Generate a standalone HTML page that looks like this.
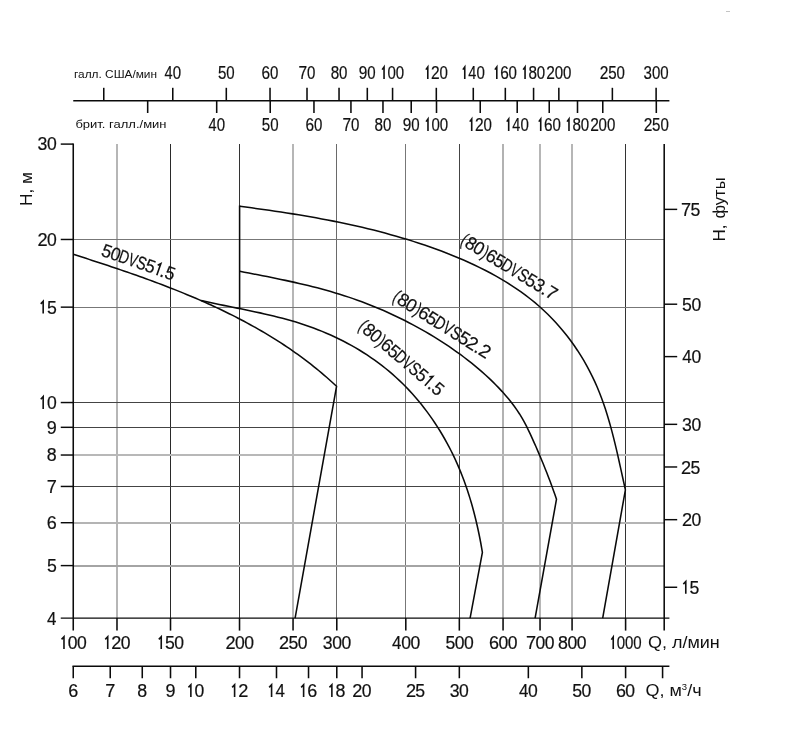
<!DOCTYPE html>
<html><head><meta charset="utf-8"><title>chart</title>
<style>
html,body{margin:0;padding:0;background:#fff;}
body{width:799px;height:734px;overflow:hidden;font-family:"Liberation Sans",sans-serif;}
svg{display:block;will-change:transform;filter:grayscale(1);}
text{font-family:"Liberation Sans",sans-serif;fill:#111;}
</style></head><body>
<svg width="799" height="734" viewBox="0 0 799 734">
<rect width="799" height="734" fill="#fff"/>
<g shape-rendering="crispEdges">
<rect x="116" y="144" width="2" height="474" fill="#b6b6b6"/>
<rect x="170" y="144" width="1" height="474" fill="#2a2a2a"/>
<rect x="239" y="144" width="1" height="474" fill="#333"/>
<rect x="292" y="144" width="2" height="474" fill="#b6b6b6"/>
<rect x="336" y="144" width="1" height="474" fill="#6a6a6a"/>
<rect x="405" y="144" width="1" height="474" fill="#777"/>
<rect x="459" y="144" width="1" height="474" fill="#444"/>
<rect x="502" y="144" width="2" height="474" fill="#b2b2b2"/>
<rect x="539" y="144" width="2" height="474" fill="#b6b6b6"/>
<rect x="571" y="144" width="2" height="474" fill="#b6b6b6"/>
<rect x="625" y="144" width="1" height="474" fill="#333"/>
<rect x="73" y="239" width="591" height="1" fill="#777"/>
<rect x="73" y="307" width="591" height="1" fill="#777"/>
<rect x="73" y="402" width="591" height="1" fill="#444"/>
<rect x="73" y="427" width="591" height="1" fill="#444"/>
<rect x="73" y="454" width="591" height="2" fill="#b8b8b8"/>
<rect x="73" y="486" width="591" height="1" fill="#444"/>
<rect x="73" y="522" width="591" height="2" fill="#b4b4b4"/>
<rect x="73" y="565" width="591" height="2" fill="#a4a4a4"/>
</g>
<line x1="73.25" y1="143.38" x2="73.25" y2="630.60" stroke="#0a0a0a" stroke-width="1.55"/>
<line x1="664.20" y1="144.10" x2="664.20" y2="630.60" stroke="#0a0a0a" stroke-width="1.55"/>
<line x1="60.75" y1="618.10" x2="669.40" y2="618.10" stroke="#0a0a0a" stroke-width="1.45"/>
<line x1="60.75" y1="144.10" x2="73.25" y2="144.10" stroke="#0a0a0a" stroke-width="1.45"/>
<line x1="60.75" y1="239.47" x2="73.25" y2="239.47" stroke="#0a0a0a" stroke-width="1.45"/>
<line x1="60.75" y1="307.15" x2="73.25" y2="307.15" stroke="#0a0a0a" stroke-width="1.45"/>
<line x1="60.75" y1="402.54" x2="73.25" y2="402.54" stroke="#0a0a0a" stroke-width="1.45"/>
<line x1="60.75" y1="427.32" x2="73.25" y2="427.32" stroke="#0a0a0a" stroke-width="1.45"/>
<line x1="60.75" y1="455.03" x2="73.25" y2="455.03" stroke="#0a0a0a" stroke-width="1.45"/>
<line x1="60.75" y1="486.45" x2="73.25" y2="486.45" stroke="#0a0a0a" stroke-width="1.45"/>
<line x1="60.75" y1="522.71" x2="73.25" y2="522.71" stroke="#0a0a0a" stroke-width="1.45"/>
<line x1="60.75" y1="565.60" x2="73.25" y2="565.60" stroke="#0a0a0a" stroke-width="1.45"/>
<line x1="664.20" y1="209.37" x2="677.20" y2="209.37" stroke="#0a0a0a" stroke-width="1.45"/>
<line x1="664.20" y1="304.21" x2="677.20" y2="304.21" stroke="#0a0a0a" stroke-width="1.45"/>
<line x1="664.20" y1="356.61" x2="677.20" y2="356.61" stroke="#0a0a0a" stroke-width="1.45"/>
<line x1="664.20" y1="424.34" x2="677.20" y2="424.34" stroke="#0a0a0a" stroke-width="1.45"/>
<line x1="664.20" y1="466.98" x2="677.20" y2="466.98" stroke="#0a0a0a" stroke-width="1.45"/>
<line x1="664.20" y1="519.68" x2="677.20" y2="519.68" stroke="#0a0a0a" stroke-width="1.45"/>
<line x1="664.20" y1="587.26" x2="677.20" y2="587.26" stroke="#0a0a0a" stroke-width="1.45"/>
<line x1="116.99" y1="618.10" x2="116.99" y2="630.60" stroke="#0a0a0a" stroke-width="1.55"/>
<line x1="170.51" y1="618.10" x2="170.51" y2="630.60" stroke="#0a0a0a" stroke-width="1.55"/>
<line x1="239.52" y1="618.10" x2="239.52" y2="630.60" stroke="#0a0a0a" stroke-width="1.55"/>
<line x1="293.05" y1="618.10" x2="293.05" y2="630.60" stroke="#0a0a0a" stroke-width="1.55"/>
<line x1="336.79" y1="618.10" x2="336.79" y2="630.60" stroke="#0a0a0a" stroke-width="1.55"/>
<line x1="405.80" y1="618.10" x2="405.80" y2="630.60" stroke="#0a0a0a" stroke-width="1.55"/>
<line x1="459.33" y1="618.10" x2="459.33" y2="630.60" stroke="#0a0a0a" stroke-width="1.55"/>
<line x1="503.06" y1="618.10" x2="503.06" y2="630.60" stroke="#0a0a0a" stroke-width="1.55"/>
<line x1="540.04" y1="618.10" x2="540.04" y2="630.60" stroke="#0a0a0a" stroke-width="1.55"/>
<line x1="572.07" y1="618.10" x2="572.07" y2="630.60" stroke="#0a0a0a" stroke-width="1.55"/>
<line x1="625.60" y1="618.10" x2="625.60" y2="630.60" stroke="#0a0a0a" stroke-width="1.55"/>
<line x1="72.47" y1="666.25" x2="669.40" y2="666.25" stroke="#0a0a0a" stroke-width="1.45"/>
<line x1="73.25" y1="666.25" x2="73.25" y2="678.25" stroke="#0a0a0a" stroke-width="1.55"/>
<line x1="110.23" y1="666.25" x2="110.23" y2="678.25" stroke="#0a0a0a" stroke-width="1.55"/>
<line x1="142.26" y1="666.25" x2="142.26" y2="678.25" stroke="#0a0a0a" stroke-width="1.55"/>
<line x1="170.51" y1="666.25" x2="170.51" y2="678.25" stroke="#0a0a0a" stroke-width="1.55"/>
<line x1="195.79" y1="666.25" x2="195.79" y2="678.25" stroke="#0a0a0a" stroke-width="1.55"/>
<line x1="239.52" y1="666.25" x2="239.52" y2="678.25" stroke="#0a0a0a" stroke-width="1.55"/>
<line x1="276.50" y1="666.25" x2="276.50" y2="678.25" stroke="#0a0a0a" stroke-width="1.55"/>
<line x1="308.53" y1="666.25" x2="308.53" y2="678.25" stroke="#0a0a0a" stroke-width="1.55"/>
<line x1="336.79" y1="666.25" x2="336.79" y2="678.25" stroke="#0a0a0a" stroke-width="1.55"/>
<line x1="362.06" y1="666.25" x2="362.06" y2="678.25" stroke="#0a0a0a" stroke-width="1.55"/>
<line x1="415.59" y1="666.25" x2="415.59" y2="678.25" stroke="#0a0a0a" stroke-width="1.55"/>
<line x1="459.33" y1="666.25" x2="459.33" y2="678.25" stroke="#0a0a0a" stroke-width="1.55"/>
<line x1="528.34" y1="666.25" x2="528.34" y2="678.25" stroke="#0a0a0a" stroke-width="1.55"/>
<line x1="581.86" y1="666.25" x2="581.86" y2="678.25" stroke="#0a0a0a" stroke-width="1.55"/>
<line x1="625.60" y1="666.25" x2="625.60" y2="678.25" stroke="#0a0a0a" stroke-width="1.55"/>
<line x1="662.58" y1="666.25" x2="662.58" y2="678.25" stroke="#0a0a0a" stroke-width="1.55"/>
<line x1="73.25" y1="100.70" x2="669.40" y2="100.70" stroke="#0a0a0a" stroke-width="1.45"/>
<line x1="103.76" y1="87.80" x2="103.76" y2="100.70" stroke="#0a0a0a" stroke-width="1.55"/>
<line x1="172.77" y1="87.80" x2="172.77" y2="100.70" stroke="#0a0a0a" stroke-width="1.55"/>
<line x1="226.30" y1="87.80" x2="226.30" y2="100.70" stroke="#0a0a0a" stroke-width="1.55"/>
<line x1="270.03" y1="87.80" x2="270.03" y2="100.70" stroke="#0a0a0a" stroke-width="1.55"/>
<line x1="307.01" y1="87.80" x2="307.01" y2="100.70" stroke="#0a0a0a" stroke-width="1.55"/>
<line x1="339.04" y1="87.80" x2="339.04" y2="100.70" stroke="#0a0a0a" stroke-width="1.55"/>
<line x1="367.30" y1="87.80" x2="367.30" y2="100.70" stroke="#0a0a0a" stroke-width="1.55"/>
<line x1="392.57" y1="87.80" x2="392.57" y2="100.70" stroke="#0a0a0a" stroke-width="1.55"/>
<line x1="436.31" y1="87.80" x2="436.31" y2="100.70" stroke="#0a0a0a" stroke-width="1.55"/>
<line x1="473.28" y1="87.80" x2="473.28" y2="100.70" stroke="#0a0a0a" stroke-width="1.55"/>
<line x1="505.32" y1="87.80" x2="505.32" y2="100.70" stroke="#0a0a0a" stroke-width="1.55"/>
<line x1="533.57" y1="87.80" x2="533.57" y2="100.70" stroke="#0a0a0a" stroke-width="1.55"/>
<line x1="558.84" y1="87.80" x2="558.84" y2="100.70" stroke="#0a0a0a" stroke-width="1.55"/>
<line x1="612.37" y1="87.80" x2="612.37" y2="100.70" stroke="#0a0a0a" stroke-width="1.55"/>
<line x1="656.11" y1="87.80" x2="656.11" y2="100.70" stroke="#0a0a0a" stroke-width="1.55"/>
<line x1="147.68" y1="100.70" x2="147.68" y2="113.00" stroke="#0a0a0a" stroke-width="1.55"/>
<line x1="216.69" y1="100.70" x2="216.69" y2="113.00" stroke="#0a0a0a" stroke-width="1.55"/>
<line x1="270.22" y1="100.70" x2="270.22" y2="113.00" stroke="#0a0a0a" stroke-width="1.55"/>
<line x1="313.96" y1="100.70" x2="313.96" y2="113.00" stroke="#0a0a0a" stroke-width="1.55"/>
<line x1="350.94" y1="100.70" x2="350.94" y2="113.00" stroke="#0a0a0a" stroke-width="1.55"/>
<line x1="382.97" y1="100.70" x2="382.97" y2="113.00" stroke="#0a0a0a" stroke-width="1.55"/>
<line x1="411.22" y1="100.70" x2="411.22" y2="113.00" stroke="#0a0a0a" stroke-width="1.55"/>
<line x1="436.50" y1="100.70" x2="436.50" y2="113.00" stroke="#0a0a0a" stroke-width="1.55"/>
<line x1="480.23" y1="100.70" x2="480.23" y2="113.00" stroke="#0a0a0a" stroke-width="1.55"/>
<line x1="517.21" y1="100.70" x2="517.21" y2="113.00" stroke="#0a0a0a" stroke-width="1.55"/>
<line x1="549.24" y1="100.70" x2="549.24" y2="113.00" stroke="#0a0a0a" stroke-width="1.55"/>
<line x1="577.50" y1="100.70" x2="577.50" y2="113.00" stroke="#0a0a0a" stroke-width="1.55"/>
<line x1="602.77" y1="100.70" x2="602.77" y2="113.00" stroke="#0a0a0a" stroke-width="1.55"/>
<line x1="656.30" y1="100.70" x2="656.30" y2="113.00" stroke="#0a0a0a" stroke-width="1.55"/>
<text transform="translate(168.62,79.00) scale(0.805,1)" text-anchor="middle" font-size="18.0" stroke="#111" stroke-width="0.2">4</text>
<text transform="translate(176.92,79.00) scale(0.835,1)" text-anchor="middle" font-size="18.0" stroke="#111" stroke-width="0.2">0</text>
<text transform="translate(222.15,79.00) scale(0.840,1)" text-anchor="middle" font-size="18.0" stroke="#111" stroke-width="0.2">5</text>
<text transform="translate(230.45,79.00) scale(0.835,1)" text-anchor="middle" font-size="18.0" stroke="#111" stroke-width="0.2">0</text>
<text transform="translate(265.88,79.00) scale(0.856,1)" text-anchor="middle" font-size="18.0" stroke="#111" stroke-width="0.2">6</text>
<text transform="translate(274.18,79.00) scale(0.835,1)" text-anchor="middle" font-size="18.0" stroke="#111" stroke-width="0.2">0</text>
<text transform="translate(302.86,79.00) scale(0.864,1)" text-anchor="middle" font-size="18.0" stroke="#111" stroke-width="0.2">7</text>
<text transform="translate(311.16,79.00) scale(0.835,1)" text-anchor="middle" font-size="18.0" stroke="#111" stroke-width="0.2">0</text>
<text transform="translate(334.89,79.00) scale(0.846,1)" text-anchor="middle" font-size="18.0" stroke="#111" stroke-width="0.2">8</text>
<text transform="translate(343.19,79.00) scale(0.835,1)" text-anchor="middle" font-size="18.0" stroke="#111" stroke-width="0.2">0</text>
<text transform="translate(363.15,79.00) scale(0.855,1)" text-anchor="middle" font-size="18.0" stroke="#111" stroke-width="0.2">9</text>
<text transform="translate(371.45,79.00) scale(0.835,1)" text-anchor="middle" font-size="18.0" stroke="#111" stroke-width="0.2">0</text>
<path d="M382.12,69.63 L384.05,67.03 V79.00" fill="none" stroke="#111" stroke-width="1.6" stroke-linejoin="miter"/>
<text transform="translate(391.67,79.00) scale(0.835,1)" text-anchor="middle" font-size="18.0" stroke="#111" stroke-width="0.2">0</text>
<text transform="translate(399.97,79.00) scale(0.835,1)" text-anchor="middle" font-size="18.0" stroke="#111" stroke-width="0.2">0</text>
<path d="M425.86,69.63 L427.79,67.03 V79.00" fill="none" stroke="#111" stroke-width="1.6" stroke-linejoin="miter"/>
<text transform="translate(435.41,79.00) scale(0.863,1)" text-anchor="middle" font-size="18.0" stroke="#111" stroke-width="0.2">2</text>
<text transform="translate(443.71,79.00) scale(0.835,1)" text-anchor="middle" font-size="18.0" stroke="#111" stroke-width="0.2">0</text>
<path d="M462.83,69.63 L464.76,67.03 V79.00" fill="none" stroke="#111" stroke-width="1.6" stroke-linejoin="miter"/>
<text transform="translate(472.38,79.00) scale(0.805,1)" text-anchor="middle" font-size="18.0" stroke="#111" stroke-width="0.2">4</text>
<text transform="translate(480.68,79.00) scale(0.835,1)" text-anchor="middle" font-size="18.0" stroke="#111" stroke-width="0.2">0</text>
<path d="M494.87,69.63 L496.80,67.03 V79.00" fill="none" stroke="#111" stroke-width="1.6" stroke-linejoin="miter"/>
<text transform="translate(504.42,79.00) scale(0.856,1)" text-anchor="middle" font-size="18.0" stroke="#111" stroke-width="0.2">6</text>
<text transform="translate(512.72,79.00) scale(0.835,1)" text-anchor="middle" font-size="18.0" stroke="#111" stroke-width="0.2">0</text>
<path d="M523.12,69.63 L525.05,67.03 V79.00" fill="none" stroke="#111" stroke-width="1.6" stroke-linejoin="miter"/>
<text transform="translate(532.67,79.00) scale(0.846,1)" text-anchor="middle" font-size="18.0" stroke="#111" stroke-width="0.2">8</text>
<text transform="translate(540.97,79.00) scale(0.835,1)" text-anchor="middle" font-size="18.0" stroke="#111" stroke-width="0.2">0</text>
<text transform="translate(550.54,79.00) scale(0.863,1)" text-anchor="middle" font-size="18.0" stroke="#111" stroke-width="0.2">2</text>
<text transform="translate(558.84,79.00) scale(0.835,1)" text-anchor="middle" font-size="18.0" stroke="#111" stroke-width="0.2">0</text>
<text transform="translate(567.14,79.00) scale(0.835,1)" text-anchor="middle" font-size="18.0" stroke="#111" stroke-width="0.2">0</text>
<text transform="translate(604.07,79.00) scale(0.863,1)" text-anchor="middle" font-size="18.0" stroke="#111" stroke-width="0.2">2</text>
<text transform="translate(612.37,79.00) scale(0.840,1)" text-anchor="middle" font-size="18.0" stroke="#111" stroke-width="0.2">5</text>
<text transform="translate(620.67,79.00) scale(0.835,1)" text-anchor="middle" font-size="18.0" stroke="#111" stroke-width="0.2">0</text>
<text transform="translate(647.81,79.00) scale(0.840,1)" text-anchor="middle" font-size="18.0" stroke="#111" stroke-width="0.2">3</text>
<text transform="translate(656.11,79.00) scale(0.835,1)" text-anchor="middle" font-size="18.0" stroke="#111" stroke-width="0.2">0</text>
<text transform="translate(664.41,79.00) scale(0.835,1)" text-anchor="middle" font-size="18.0" stroke="#111" stroke-width="0.2">0</text>
<text transform="translate(212.54,131.00) scale(0.805,1)" text-anchor="middle" font-size="18.0" stroke="#111" stroke-width="0.2">4</text>
<text transform="translate(220.84,131.00) scale(0.835,1)" text-anchor="middle" font-size="18.0" stroke="#111" stroke-width="0.2">0</text>
<text transform="translate(266.07,131.00) scale(0.840,1)" text-anchor="middle" font-size="18.0" stroke="#111" stroke-width="0.2">5</text>
<text transform="translate(274.37,131.00) scale(0.835,1)" text-anchor="middle" font-size="18.0" stroke="#111" stroke-width="0.2">0</text>
<text transform="translate(309.81,131.00) scale(0.856,1)" text-anchor="middle" font-size="18.0" stroke="#111" stroke-width="0.2">6</text>
<text transform="translate(318.11,131.00) scale(0.835,1)" text-anchor="middle" font-size="18.0" stroke="#111" stroke-width="0.2">0</text>
<text transform="translate(346.79,131.00) scale(0.864,1)" text-anchor="middle" font-size="18.0" stroke="#111" stroke-width="0.2">7</text>
<text transform="translate(355.09,131.00) scale(0.835,1)" text-anchor="middle" font-size="18.0" stroke="#111" stroke-width="0.2">0</text>
<text transform="translate(378.82,131.00) scale(0.846,1)" text-anchor="middle" font-size="18.0" stroke="#111" stroke-width="0.2">8</text>
<text transform="translate(387.12,131.00) scale(0.835,1)" text-anchor="middle" font-size="18.0" stroke="#111" stroke-width="0.2">0</text>
<text transform="translate(407.07,131.00) scale(0.855,1)" text-anchor="middle" font-size="18.0" stroke="#111" stroke-width="0.2">9</text>
<text transform="translate(415.37,131.00) scale(0.835,1)" text-anchor="middle" font-size="18.0" stroke="#111" stroke-width="0.2">0</text>
<path d="M426.05,121.63 L427.98,119.03 V131.00" fill="none" stroke="#111" stroke-width="1.6" stroke-linejoin="miter"/>
<text transform="translate(435.60,131.00) scale(0.835,1)" text-anchor="middle" font-size="18.0" stroke="#111" stroke-width="0.2">0</text>
<text transform="translate(443.90,131.00) scale(0.835,1)" text-anchor="middle" font-size="18.0" stroke="#111" stroke-width="0.2">0</text>
<path d="M469.78,121.63 L471.71,119.03 V131.00" fill="none" stroke="#111" stroke-width="1.6" stroke-linejoin="miter"/>
<text transform="translate(479.33,131.00) scale(0.863,1)" text-anchor="middle" font-size="18.0" stroke="#111" stroke-width="0.2">2</text>
<text transform="translate(487.63,131.00) scale(0.835,1)" text-anchor="middle" font-size="18.0" stroke="#111" stroke-width="0.2">0</text>
<path d="M506.76,121.63 L508.69,119.03 V131.00" fill="none" stroke="#111" stroke-width="1.6" stroke-linejoin="miter"/>
<text transform="translate(516.31,131.00) scale(0.805,1)" text-anchor="middle" font-size="18.0" stroke="#111" stroke-width="0.2">4</text>
<text transform="translate(524.61,131.00) scale(0.835,1)" text-anchor="middle" font-size="18.0" stroke="#111" stroke-width="0.2">0</text>
<path d="M538.79,121.63 L540.72,119.03 V131.00" fill="none" stroke="#111" stroke-width="1.6" stroke-linejoin="miter"/>
<text transform="translate(548.34,131.00) scale(0.856,1)" text-anchor="middle" font-size="18.0" stroke="#111" stroke-width="0.2">6</text>
<text transform="translate(556.64,131.00) scale(0.835,1)" text-anchor="middle" font-size="18.0" stroke="#111" stroke-width="0.2">0</text>
<path d="M567.05,121.63 L568.98,119.03 V131.00" fill="none" stroke="#111" stroke-width="1.6" stroke-linejoin="miter"/>
<text transform="translate(576.60,131.00) scale(0.846,1)" text-anchor="middle" font-size="18.0" stroke="#111" stroke-width="0.2">8</text>
<text transform="translate(584.90,131.00) scale(0.835,1)" text-anchor="middle" font-size="18.0" stroke="#111" stroke-width="0.2">0</text>
<text transform="translate(594.47,131.00) scale(0.863,1)" text-anchor="middle" font-size="18.0" stroke="#111" stroke-width="0.2">2</text>
<text transform="translate(602.77,131.00) scale(0.835,1)" text-anchor="middle" font-size="18.0" stroke="#111" stroke-width="0.2">0</text>
<text transform="translate(611.07,131.00) scale(0.835,1)" text-anchor="middle" font-size="18.0" stroke="#111" stroke-width="0.2">0</text>
<text transform="translate(648.00,131.00) scale(0.863,1)" text-anchor="middle" font-size="18.0" stroke="#111" stroke-width="0.2">2</text>
<text transform="translate(656.30,131.00) scale(0.840,1)" text-anchor="middle" font-size="18.0" stroke="#111" stroke-width="0.2">5</text>
<text transform="translate(664.60,131.00) scale(0.835,1)" text-anchor="middle" font-size="18.0" stroke="#111" stroke-width="0.2">0</text>
<path d="M61.55,639.38 L63.98,636.78 V649.10" fill="none" stroke="#111" stroke-width="1.6" stroke-linejoin="miter"/>
<text transform="translate(72.60,649.10) scale(0.950,1)" text-anchor="middle" font-size="18.5" stroke="#111" stroke-width="0.2">0</text>
<text transform="translate(81.90,649.10) scale(0.950,1)" text-anchor="middle" font-size="18.5" stroke="#111" stroke-width="0.2">0</text>
<path d="M105.29,639.38 L107.72,636.78 V649.10" fill="none" stroke="#111" stroke-width="1.6" stroke-linejoin="miter"/>
<text transform="translate(116.34,649.10) scale(0.982,1)" text-anchor="middle" font-size="18.5" stroke="#111" stroke-width="0.2">2</text>
<text transform="translate(125.64,649.10) scale(0.950,1)" text-anchor="middle" font-size="18.5" stroke="#111" stroke-width="0.2">0</text>
<path d="M158.81,639.38 L161.24,636.78 V649.10" fill="none" stroke="#111" stroke-width="1.6" stroke-linejoin="miter"/>
<text transform="translate(169.86,649.10) scale(0.956,1)" text-anchor="middle" font-size="18.5" stroke="#111" stroke-width="0.2">5</text>
<text transform="translate(179.16,649.10) scale(0.950,1)" text-anchor="middle" font-size="18.5" stroke="#111" stroke-width="0.2">0</text>
<text transform="translate(230.52,649.10) scale(0.982,1)" text-anchor="middle" font-size="18.5" stroke="#111" stroke-width="0.2">2</text>
<text transform="translate(239.82,649.10) scale(0.950,1)" text-anchor="middle" font-size="18.5" stroke="#111" stroke-width="0.2">0</text>
<text transform="translate(249.12,649.10) scale(0.950,1)" text-anchor="middle" font-size="18.5" stroke="#111" stroke-width="0.2">0</text>
<text transform="translate(284.05,649.10) scale(0.982,1)" text-anchor="middle" font-size="18.5" stroke="#111" stroke-width="0.2">2</text>
<text transform="translate(293.35,649.10) scale(0.956,1)" text-anchor="middle" font-size="18.5" stroke="#111" stroke-width="0.2">5</text>
<text transform="translate(302.65,649.10) scale(0.950,1)" text-anchor="middle" font-size="18.5" stroke="#111" stroke-width="0.2">0</text>
<text transform="translate(327.79,649.10) scale(0.956,1)" text-anchor="middle" font-size="18.5" stroke="#111" stroke-width="0.2">3</text>
<text transform="translate(337.09,649.10) scale(0.950,1)" text-anchor="middle" font-size="18.5" stroke="#111" stroke-width="0.2">0</text>
<text transform="translate(346.39,649.10) scale(0.950,1)" text-anchor="middle" font-size="18.5" stroke="#111" stroke-width="0.2">0</text>
<text transform="translate(396.80,649.10) scale(0.915,1)" text-anchor="middle" font-size="18.5" stroke="#111" stroke-width="0.2">4</text>
<text transform="translate(406.10,649.10) scale(0.950,1)" text-anchor="middle" font-size="18.5" stroke="#111" stroke-width="0.2">0</text>
<text transform="translate(415.40,649.10) scale(0.950,1)" text-anchor="middle" font-size="18.5" stroke="#111" stroke-width="0.2">0</text>
<text transform="translate(450.33,649.10) scale(0.956,1)" text-anchor="middle" font-size="18.5" stroke="#111" stroke-width="0.2">5</text>
<text transform="translate(459.63,649.10) scale(0.950,1)" text-anchor="middle" font-size="18.5" stroke="#111" stroke-width="0.2">0</text>
<text transform="translate(468.93,649.10) scale(0.950,1)" text-anchor="middle" font-size="18.5" stroke="#111" stroke-width="0.2">0</text>
<text transform="translate(494.06,649.10) scale(0.974,1)" text-anchor="middle" font-size="18.5" stroke="#111" stroke-width="0.2">6</text>
<text transform="translate(503.36,649.10) scale(0.950,1)" text-anchor="middle" font-size="18.5" stroke="#111" stroke-width="0.2">0</text>
<text transform="translate(512.66,649.10) scale(0.950,1)" text-anchor="middle" font-size="18.5" stroke="#111" stroke-width="0.2">0</text>
<text transform="translate(531.04,649.10) scale(0.983,1)" text-anchor="middle" font-size="18.5" stroke="#111" stroke-width="0.2">7</text>
<text transform="translate(540.34,649.10) scale(0.950,1)" text-anchor="middle" font-size="18.5" stroke="#111" stroke-width="0.2">0</text>
<text transform="translate(549.64,649.10) scale(0.950,1)" text-anchor="middle" font-size="18.5" stroke="#111" stroke-width="0.2">0</text>
<text transform="translate(563.07,649.10) scale(0.963,1)" text-anchor="middle" font-size="18.5" stroke="#111" stroke-width="0.2">8</text>
<text transform="translate(572.37,649.10) scale(0.950,1)" text-anchor="middle" font-size="18.5" stroke="#111" stroke-width="0.2">0</text>
<text transform="translate(581.67,649.10) scale(0.950,1)" text-anchor="middle" font-size="18.5" stroke="#111" stroke-width="0.2">0</text>
<path d="M611.30,639.63 L613.23,637.03 V649.00" fill="none" stroke="#111" stroke-width="1.6" stroke-linejoin="miter"/>
<text transform="translate(620.85,649.00) scale(0.835,1)" text-anchor="middle" font-size="18.0" stroke="#111" stroke-width="0.2">0</text>
<text transform="translate(629.15,649.00) scale(0.835,1)" text-anchor="middle" font-size="18.0" stroke="#111" stroke-width="0.2">0</text>
<text transform="translate(637.45,649.00) scale(0.835,1)" text-anchor="middle" font-size="18.0" stroke="#111" stroke-width="0.2">0</text>
<text transform="translate(73.25,697.10) scale(0.974,1)" text-anchor="middle" font-size="18.5" stroke="#111" stroke-width="0.2">6</text>
<text transform="translate(110.23,697.10) scale(0.983,1)" text-anchor="middle" font-size="18.5" stroke="#111" stroke-width="0.2">7</text>
<text transform="translate(142.26,697.10) scale(0.963,1)" text-anchor="middle" font-size="18.5" stroke="#111" stroke-width="0.2">8</text>
<text transform="translate(170.51,697.10) scale(0.973,1)" text-anchor="middle" font-size="18.5" stroke="#111" stroke-width="0.2">9</text>
<path d="M188.44,687.38 L190.87,684.78 V697.10" fill="none" stroke="#111" stroke-width="1.6" stroke-linejoin="miter"/>
<text transform="translate(199.49,697.10) scale(0.950,1)" text-anchor="middle" font-size="18.5" stroke="#111" stroke-width="0.2">0</text>
<path d="M232.17,687.38 L234.60,684.78 V697.10" fill="none" stroke="#111" stroke-width="1.6" stroke-linejoin="miter"/>
<text transform="translate(243.22,697.10) scale(0.982,1)" text-anchor="middle" font-size="18.5" stroke="#111" stroke-width="0.2">2</text>
<path d="M269.15,687.38 L271.58,684.78 V697.10" fill="none" stroke="#111" stroke-width="1.6" stroke-linejoin="miter"/>
<text transform="translate(280.20,697.10) scale(0.915,1)" text-anchor="middle" font-size="18.5" stroke="#111" stroke-width="0.2">4</text>
<path d="M301.18,687.38 L303.61,684.78 V697.10" fill="none" stroke="#111" stroke-width="1.6" stroke-linejoin="miter"/>
<text transform="translate(312.23,697.10) scale(0.974,1)" text-anchor="middle" font-size="18.5" stroke="#111" stroke-width="0.2">6</text>
<path d="M329.44,687.38 L331.87,684.78 V697.10" fill="none" stroke="#111" stroke-width="1.6" stroke-linejoin="miter"/>
<text transform="translate(340.49,697.10) scale(0.963,1)" text-anchor="middle" font-size="18.5" stroke="#111" stroke-width="0.2">8</text>
<text transform="translate(357.41,697.10) scale(0.982,1)" text-anchor="middle" font-size="18.5" stroke="#111" stroke-width="0.2">2</text>
<text transform="translate(366.71,697.10) scale(0.950,1)" text-anchor="middle" font-size="18.5" stroke="#111" stroke-width="0.2">0</text>
<text transform="translate(410.94,697.10) scale(0.982,1)" text-anchor="middle" font-size="18.5" stroke="#111" stroke-width="0.2">2</text>
<text transform="translate(420.24,697.10) scale(0.956,1)" text-anchor="middle" font-size="18.5" stroke="#111" stroke-width="0.2">5</text>
<text transform="translate(454.68,697.10) scale(0.956,1)" text-anchor="middle" font-size="18.5" stroke="#111" stroke-width="0.2">3</text>
<text transform="translate(463.98,697.10) scale(0.950,1)" text-anchor="middle" font-size="18.5" stroke="#111" stroke-width="0.2">0</text>
<text transform="translate(523.69,697.10) scale(0.915,1)" text-anchor="middle" font-size="18.5" stroke="#111" stroke-width="0.2">4</text>
<text transform="translate(532.99,697.10) scale(0.950,1)" text-anchor="middle" font-size="18.5" stroke="#111" stroke-width="0.2">0</text>
<text transform="translate(577.21,697.10) scale(0.956,1)" text-anchor="middle" font-size="18.5" stroke="#111" stroke-width="0.2">5</text>
<text transform="translate(586.51,697.10) scale(0.950,1)" text-anchor="middle" font-size="18.5" stroke="#111" stroke-width="0.2">0</text>
<text transform="translate(620.95,697.10) scale(0.974,1)" text-anchor="middle" font-size="18.5" stroke="#111" stroke-width="0.2">6</text>
<text transform="translate(630.25,697.10) scale(0.950,1)" text-anchor="middle" font-size="18.5" stroke="#111" stroke-width="0.2">0</text>
<text transform="translate(42.50,150.48) scale(0.956,1)" text-anchor="middle" font-size="18.5" stroke="#111" stroke-width="0.2">3</text>
<text transform="translate(51.80,150.48) scale(0.950,1)" text-anchor="middle" font-size="18.5" stroke="#111" stroke-width="0.2">0</text>
<text transform="translate(42.50,245.87) scale(0.982,1)" text-anchor="middle" font-size="18.5" stroke="#111" stroke-width="0.2">2</text>
<text transform="translate(51.80,245.87) scale(0.950,1)" text-anchor="middle" font-size="18.5" stroke="#111" stroke-width="0.2">0</text>
<path d="M40.75,303.83 L43.18,301.23 V313.55" fill="none" stroke="#111" stroke-width="1.6" stroke-linejoin="miter"/>
<text transform="translate(51.80,313.55) scale(0.956,1)" text-anchor="middle" font-size="18.5" stroke="#111" stroke-width="0.2">5</text>
<path d="M40.75,399.22 L43.18,396.62 V408.94" fill="none" stroke="#111" stroke-width="1.6" stroke-linejoin="miter"/>
<text transform="translate(51.80,408.94) scale(0.950,1)" text-anchor="middle" font-size="18.5" stroke="#111" stroke-width="0.2">0</text>
<text transform="translate(51.80,433.72) scale(0.973,1)" text-anchor="middle" font-size="18.5" stroke="#111" stroke-width="0.2">9</text>
<text transform="translate(51.80,461.43) scale(0.963,1)" text-anchor="middle" font-size="18.5" stroke="#111" stroke-width="0.2">8</text>
<text transform="translate(51.80,492.85) scale(0.983,1)" text-anchor="middle" font-size="18.5" stroke="#111" stroke-width="0.2">7</text>
<text transform="translate(51.80,529.11) scale(0.974,1)" text-anchor="middle" font-size="18.5" stroke="#111" stroke-width="0.2">6</text>
<text transform="translate(51.80,572.00) scale(0.956,1)" text-anchor="middle" font-size="18.5" stroke="#111" stroke-width="0.2">5</text>
<text transform="translate(51.80,624.50) scale(0.915,1)" text-anchor="middle" font-size="18.5" stroke="#111" stroke-width="0.2">4</text>
<text transform="translate(686.10,215.97) scale(0.983,1)" text-anchor="middle" font-size="18.5" stroke="#111" stroke-width="0.2">7</text>
<text transform="translate(695.40,215.97) scale(0.956,1)" text-anchor="middle" font-size="18.5" stroke="#111" stroke-width="0.2">5</text>
<text transform="translate(687.00,310.81) scale(0.956,1)" text-anchor="middle" font-size="18.5" stroke="#111" stroke-width="0.2">5</text>
<text transform="translate(696.30,310.81) scale(0.950,1)" text-anchor="middle" font-size="18.5" stroke="#111" stroke-width="0.2">0</text>
<text transform="translate(687.00,363.21) scale(0.915,1)" text-anchor="middle" font-size="18.5" stroke="#111" stroke-width="0.2">4</text>
<text transform="translate(696.30,363.21) scale(0.950,1)" text-anchor="middle" font-size="18.5" stroke="#111" stroke-width="0.2">0</text>
<text transform="translate(687.00,430.94) scale(0.956,1)" text-anchor="middle" font-size="18.5" stroke="#111" stroke-width="0.2">3</text>
<text transform="translate(696.30,430.94) scale(0.950,1)" text-anchor="middle" font-size="18.5" stroke="#111" stroke-width="0.2">0</text>
<text transform="translate(686.10,473.58) scale(0.982,1)" text-anchor="middle" font-size="18.5" stroke="#111" stroke-width="0.2">2</text>
<text transform="translate(695.40,473.58) scale(0.956,1)" text-anchor="middle" font-size="18.5" stroke="#111" stroke-width="0.2">5</text>
<text transform="translate(687.00,526.28) scale(0.982,1)" text-anchor="middle" font-size="18.5" stroke="#111" stroke-width="0.2">2</text>
<text transform="translate(696.30,526.28) scale(0.950,1)" text-anchor="middle" font-size="18.5" stroke="#111" stroke-width="0.2">0</text>
<path d="M683.35,584.14 L685.78,581.54 V593.86" fill="none" stroke="#111" stroke-width="1.6" stroke-linejoin="miter"/>
<text transform="translate(694.40,593.86) scale(0.956,1)" text-anchor="middle" font-size="18.5" stroke="#111" stroke-width="0.2">5</text>
<text transform="translate(74.0,78.1) scale(1.015,1)" font-size="11.7">галл. США/мин</text>
<text transform="translate(75.4,127.9) scale(1.113,1)" font-size="11.7">брит. галл./мин</text>
<text transform="translate(647.9,647.8) scale(1.105,1)" font-size="16.3">Q, л/мин</text>
<text transform="translate(645.5,695.9) scale(1.105,1)" font-size="16.3">Q, м<tspan font-size="8.6" dy="-6.2">3</tspan><tspan dy="6.2">/ч</tspan></text>
<text transform="translate(32.2,206.0) rotate(-90) scale(1.05,1)" font-size="16.5">Н, м</text>
<text transform="translate(724.8,241.6) rotate(-90) scale(1.05,1)" font-size="16.2">Н,</text>
<text transform="translate(724.8,218.6) rotate(-90) scale(1.02,1)" font-size="16.2">футы</text>
<path d="M73.30,254.30 L76.45,255.31 L79.60,256.32 L82.75,257.33 L85.91,258.35 L89.07,259.37 L92.22,260.40 L95.38,261.43 L98.55,262.46 L101.71,263.50 L104.87,264.54 L108.03,265.59 L111.20,266.65 L114.36,267.71 L117.52,268.78 L120.69,269.86 L123.85,270.94 L127.01,272.03 L130.17,273.12 L133.32,274.23 L136.48,275.34 L139.63,276.46 L142.79,277.59 L145.94,278.72 L149.08,279.87 L152.23,281.03 L155.37,282.19 L158.50,283.36 L161.64,284.55 L164.77,285.74 L167.89,286.95 L171.01,288.17 L174.13,289.39 L177.24,290.63 L180.35,291.88 L183.45,293.14 L186.55,294.42 L189.64,295.70 L192.72,297.00 L195.80,298.32 L198.87,299.64 L201.94,300.98 L205.00,302.33 L208.05,303.70 L211.09,305.08 L214.13,306.48 L217.15,307.89 L220.17,309.31 L223.19,310.75 L226.19,312.21 L229.18,313.68 L232.17,315.17 L235.14,316.67 L238.11,318.20 L241.07,319.73 L244.01,321.29 L246.95,322.86 L249.87,324.45 L252.79,326.06 L255.69,327.69 L258.59,329.33 L261.47,331.00 L264.34,332.68 L267.20,334.38 L270.04,336.11 L272.87,337.85 L275.70,339.61 L278.50,341.39 L281.30,343.20 L284.08,345.02 L286.85,346.87 L289.60,348.73 L292.34,350.62 L295.07,352.53 L297.78,354.46 L300.48,356.42 L303.16,358.40 L305.82,360.40 L308.48,362.42 L311.11,364.47 L313.73,366.54 L316.33,368.64 L318.92,370.76 L321.49,372.90 L324.04,375.07 L326.58,377.26 L329.10,379.48 L331.60,381.73 L334.08,384.00 L336.55,386.30 L295.1,618.1" fill="none" stroke="#0a0a0a" stroke-width="1.55" stroke-linejoin="round"/>
<path d="M201.30,300.60 L205.76,301.59 L210.23,302.57 L214.72,303.52 L219.22,304.45 L223.74,305.38 L228.26,306.29 L232.79,307.21 L237.32,308.13 L241.86,309.05 L246.40,309.98 L250.94,310.93 L255.47,311.89 L260.01,312.88 L264.54,313.89 L269.06,314.94 L273.57,316.02 L278.08,317.14 L282.57,318.30 L287.04,319.52 L291.50,320.78 L295.95,322.10 L300.37,323.48 L304.77,324.92 L309.15,326.44 L313.51,328.02 L317.84,329.67 L322.14,331.40 L326.41,333.19 L330.65,335.05 L334.85,336.98 L339.02,338.98 L343.15,341.05 L347.25,343.20 L351.30,345.41 L355.31,347.69 L359.28,350.04 L363.20,352.47 L367.07,354.96 L370.90,357.52 L374.67,360.16 L378.39,362.86 L382.05,365.64 L385.66,368.49 L389.21,371.41 L392.70,374.40 L396.13,377.46 L399.50,380.59 L402.80,383.78 L406.04,387.05 L409.22,390.38 L412.33,393.77 L415.38,397.22 L418.36,400.73 L421.29,404.30 L424.14,407.93 L426.93,411.61 L429.66,415.34 L432.32,419.12 L434.91,422.96 L437.44,426.84 L439.90,430.76 L442.29,434.73 L444.61,438.74 L446.87,442.79 L449.06,446.89 L451.18,451.01 L453.23,455.18 L455.22,459.38 L457.13,463.60 L458.97,467.86 L460.74,472.15 L462.45,476.47 L464.09,480.81 L465.66,485.17 L467.16,489.56 L468.61,493.97 L469.99,498.39 L471.31,502.83 L472.58,507.29 L473.79,511.76 L474.94,516.24 L476.04,520.73 L477.09,525.23 L478.09,529.73 L479.04,534.24 L479.95,538.76 L480.81,543.27 L481.62,547.79 L482.40,552.30 L470.1,618.1" fill="none" stroke="#0a0a0a" stroke-width="1.55" stroke-linejoin="round"/>
<path d="M239.76,271.30 L244.32,272.17 L248.88,273.05 L253.44,273.93 L258.01,274.82 L262.58,275.71 L267.15,276.61 L271.72,277.53 L276.29,278.46 L280.86,279.41 L285.42,280.38 L289.99,281.37 L294.55,282.38 L299.10,283.42 L303.65,284.49 L308.19,285.58 L312.72,286.71 L317.25,287.87 L321.76,289.06 L326.27,290.30 L330.77,291.57 L335.25,292.89 L339.73,294.25 L344.18,295.66 L348.63,297.12 L353.06,298.62 L357.47,300.18 L361.87,301.79 L366.25,303.45 L370.62,305.16 L374.96,306.92 L379.28,308.73 L383.59,310.58 L387.87,312.48 L392.13,314.43 L396.37,316.43 L400.58,318.47 L404.77,320.56 L408.93,322.69 L413.06,324.87 L417.17,327.09 L421.25,329.36 L425.30,331.67 L429.33,334.03 L433.32,336.43 L437.28,338.88 L441.20,341.37 L445.10,343.90 L448.96,346.48 L452.78,349.11 L456.58,351.78 L460.33,354.49 L464.05,357.25 L467.72,360.06 L471.36,362.92 L474.96,365.84 L478.52,368.82 L482.04,371.86 L485.52,374.96 L488.95,378.14 L492.34,381.39 L495.68,384.71 L498.98,388.12 L502.22,391.60 L505.38,395.16 L508.46,398.79 L511.43,402.49 L514.28,406.25 L516.99,410.08 L519.55,413.97 L521.95,417.91 L524.20,421.90 L526.33,425.95 L528.36,430.04 L530.31,434.18 L532.23,438.35 L534.12,442.56 L536.00,446.81 L537.85,451.08 L539.69,455.39 L541.51,459.71 L543.30,464.06 L545.07,468.42 L546.81,472.80 L548.51,477.19 L550.18,481.59 L551.82,486.00 L553.42,490.40 L554.98,494.80 L556.50,499.20 L535.1,618.1" fill="none" stroke="#0a0a0a" stroke-width="1.55" stroke-linejoin="round"/>
<path d="M239.76,206.26 L245.67,207.04 L251.58,207.84 L257.47,208.65 L263.36,209.47 L269.24,210.31 L275.11,211.17 L280.98,212.05 L286.83,212.96 L292.68,213.88 L298.52,214.83 L304.35,215.81 L310.17,216.81 L315.98,217.84 L321.78,218.90 L327.58,220.00 L333.36,221.13 L339.14,222.30 L344.90,223.50 L350.66,224.74 L356.40,226.02 L362.14,227.34 L367.87,228.71 L373.58,230.12 L379.29,231.58 L384.98,233.08 L390.67,234.64 L396.34,236.24 L402.01,237.90 L407.66,239.61 L413.30,241.38 L418.94,243.20 L424.56,245.09 L430.17,247.03 L435.76,249.03 L441.35,251.10 L446.92,253.24 L452.48,255.44 L458.01,257.71 L463.51,260.06 L468.97,262.49 L474.40,265.00 L479.78,267.59 L485.12,270.26 L490.40,273.03 L495.62,275.89 L500.78,278.85 L505.87,281.90 L510.89,285.06 L515.83,288.31 L520.68,291.68 L525.45,295.16 L530.12,298.75 L534.70,302.46 L539.18,306.28 L543.54,310.23 L547.80,314.30 L551.95,318.49 L555.98,322.78 L559.89,327.19 L563.69,331.70 L567.37,336.31 L570.92,341.01 L574.35,345.81 L577.66,350.69 L580.84,355.66 L583.89,360.71 L586.81,365.84 L589.60,371.04 L592.25,376.30 L594.77,381.63 L597.15,387.02 L599.39,392.47 L601.51,397.97 L603.51,403.52 L605.40,409.11 L607.19,414.74 L608.90,420.41 L610.51,426.11 L612.06,431.84 L613.54,437.59 L614.96,443.36 L616.34,449.15 L617.68,454.95 L618.99,460.76 L620.28,466.58 L621.55,472.39 L622.83,478.21 L624.11,484.01 L625.40,489.80 L602.7,618.1" fill="none" stroke="#0a0a0a" stroke-width="1.55" stroke-linejoin="round"/>
<line x1="239.6" y1="205.5" x2="239.6" y2="308.5" stroke="#0a0a0a" stroke-width="1.55"/>
<g transform="translate(100.5,255.5) rotate(19.3) skewX(0)">
<text transform="translate(-0.25,0) scale(0.946,1)" font-size="18.5" stroke="#111" stroke-width="0.2">5</text>
<text transform="translate(8.97,0) scale(0.939,1)" font-size="18.5" stroke="#111" stroke-width="0.2">0</text>
<text transform="translate(17.70,0) scale(0.757,1)" font-size="18.5" stroke="#111" stroke-width="0.2">D</text>
<text transform="translate(27.99,0) scale(0.682,1)" font-size="18.5" stroke="#111" stroke-width="0.2">V</text>
<text transform="translate(36.60,0) scale(0.779,1)" font-size="18.5" stroke="#111" stroke-width="0.2">S</text>
<text transform="translate(45.75,0) scale(0.946,1)" font-size="18.5" stroke="#111" stroke-width="0.2">5</text>
<path d="M57.20,-9.72 L59.63,-12.32 V0" fill="none" stroke="#111" stroke-width="1.6"/>
<text transform="translate(61.77,0) scale(1.022,1)" font-size="18.5" stroke="#111" stroke-width="0.2">.</text>
<text transform="translate(66.75,0) scale(0.946,1)" font-size="18.5" stroke="#111" stroke-width="0.2">5</text>
</g>
<g transform="translate(357.3,328.1) rotate(40.5) skewX(0)">
<text transform="translate(0.20,0) scale(0.693,1)" font-size="18.5" stroke="#111" stroke-width="0.2">(</text>
<text transform="translate(5.08,0) scale(0.956,1)" font-size="18.5" stroke="#111" stroke-width="0.2">8</text>
<text transform="translate(14.37,0) scale(0.939,1)" font-size="18.5" stroke="#111" stroke-width="0.2">0</text>
<text transform="translate(24.72,0) scale(0.693,1)" font-size="18.5" stroke="#111" stroke-width="0.2">)</text>
<text transform="translate(28.74,0) scale(0.972,1)" font-size="18.5" stroke="#111" stroke-width="0.2">6</text>
<text transform="translate(38.15,0) scale(0.946,1)" font-size="18.5" stroke="#111" stroke-width="0.2">5</text>
<text transform="translate(46.90,0) scale(0.757,1)" font-size="18.5" stroke="#111" stroke-width="0.2">D</text>
<text transform="translate(57.19,0) scale(0.682,1)" font-size="18.5" stroke="#111" stroke-width="0.2">V</text>
<text transform="translate(65.80,0) scale(0.779,1)" font-size="18.5" stroke="#111" stroke-width="0.2">S</text>
<text transform="translate(74.95,0) scale(0.946,1)" font-size="18.5" stroke="#111" stroke-width="0.2">5</text>
<path d="M86.40,-9.72 L88.83,-12.32 V0" fill="none" stroke="#111" stroke-width="1.6"/>
<text transform="translate(90.97,0) scale(1.022,1)" font-size="18.5" stroke="#111" stroke-width="0.2">.</text>
<text transform="translate(95.95,0) scale(0.946,1)" font-size="18.5" stroke="#111" stroke-width="0.2">5</text>
</g>
<g transform="translate(391.3,300.1) rotate(32) skewX(0)">
<text transform="translate(0.21,0) scale(0.714,1)" font-size="18.5" stroke="#111" stroke-width="0.2">(</text>
<text transform="translate(5.23,0) scale(0.985,1)" font-size="18.5" stroke="#111" stroke-width="0.2">8</text>
<text transform="translate(14.80,0) scale(0.967,1)" font-size="18.5" stroke="#111" stroke-width="0.2">0</text>
<text transform="translate(25.47,0) scale(0.714,1)" font-size="18.5" stroke="#111" stroke-width="0.2">)</text>
<text transform="translate(29.60,0) scale(1.002,1)" font-size="18.5" stroke="#111" stroke-width="0.2">6</text>
<text transform="translate(39.29,0) scale(0.975,1)" font-size="18.5" stroke="#111" stroke-width="0.2">5</text>
<text transform="translate(48.31,0) scale(0.780,1)" font-size="18.5" stroke="#111" stroke-width="0.2">D</text>
<text transform="translate(58.91,0) scale(0.702,1)" font-size="18.5" stroke="#111" stroke-width="0.2">V</text>
<text transform="translate(67.77,0) scale(0.803,1)" font-size="18.5" stroke="#111" stroke-width="0.2">S</text>
<text transform="translate(77.20,0) scale(0.975,1)" font-size="18.5" stroke="#111" stroke-width="0.2">5</text>
<text transform="translate(86.45,0) scale(1.014,1)" font-size="18.5" stroke="#111" stroke-width="0.2">2</text>
<text transform="translate(96.46,0) scale(1.022,1)" font-size="18.5" stroke="#111" stroke-width="0.2">.</text>
<text transform="translate(101.28,0) scale(1.014,1)" font-size="18.5" stroke="#111" stroke-width="0.2">2</text>
</g>
<g transform="translate(459.2,243.45) rotate(31.6) skewX(0)">
<text transform="translate(0.21,0) scale(0.702,1)" font-size="18.5" stroke="#111" stroke-width="0.2">(</text>
<text transform="translate(5.14,0) scale(0.968,1)" font-size="18.5" stroke="#111" stroke-width="0.2">8</text>
<text transform="translate(14.54,0) scale(0.950,1)" font-size="18.5" stroke="#111" stroke-width="0.2">0</text>
<text transform="translate(25.02,0) scale(0.702,1)" font-size="18.5" stroke="#111" stroke-width="0.2">)</text>
<text transform="translate(29.08,0) scale(0.984,1)" font-size="18.5" stroke="#111" stroke-width="0.2">6</text>
<text transform="translate(38.61,0) scale(0.957,1)" font-size="18.5" stroke="#111" stroke-width="0.2">5</text>
<text transform="translate(47.46,0) scale(0.767,1)" font-size="18.5" stroke="#111" stroke-width="0.2">D</text>
<text transform="translate(57.88,0) scale(0.690,1)" font-size="18.5" stroke="#111" stroke-width="0.2">V</text>
<text transform="translate(66.59,0) scale(0.789,1)" font-size="18.5" stroke="#111" stroke-width="0.2">S</text>
<text transform="translate(75.85,0) scale(0.957,1)" font-size="18.5" stroke="#111" stroke-width="0.2">5</text>
<text transform="translate(85.19,0) scale(0.958,1)" font-size="18.5" stroke="#111" stroke-width="0.2">3</text>
<text transform="translate(94.73,0) scale(1.022,1)" font-size="18.5" stroke="#111" stroke-width="0.2">.</text>
<text transform="translate(99.49,0) scale(0.999,1)" font-size="18.5" stroke="#111" stroke-width="0.2">7</text>
</g>
<rect x="726" y="11" width="4" height="1" fill="#c4c4c4"/>
</svg>
</body></html>
